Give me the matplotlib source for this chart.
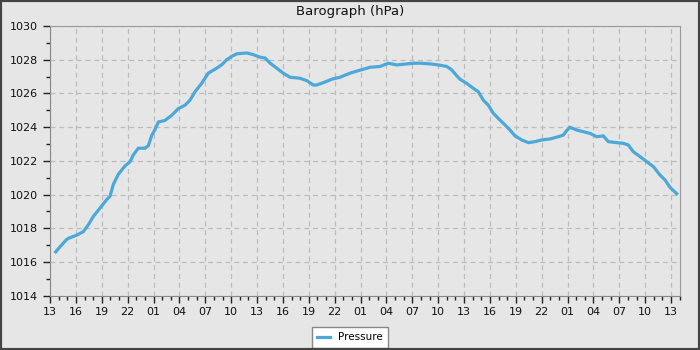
import matplotlib
matplotlib.use("Agg")
import matplotlib.pyplot as plt
from matplotlib.ticker import MultipleLocator, FuncFormatter
from matplotlib.patches import Rectangle

# hours since 13:00 on the first day
hours = [0.66, 1.16, 1.86, 2.12, 3.13, 3.86, 4.44, 5.02, 5.80, 6.57, 6.96, 7.34,
         7.92, 8.70, 9.28, 9.66, 10.24, 11.01, 11.40, 11.79, 12.17, 12.56, 13.33,
         14.11, 14.88, 15.65, 16.23, 16.81, 17.59, 18.35, 19.33, 19.91, 20.49,
         21.07, 21.65, 22.81, 23.57, 24.35, 24.93, 25.51, 26.28, 27.05, 27.83,
         28.99, 29.76, 30.53, 30.92, 31.69, 32.66, 33.62, 34.78, 35.74, 37.10,
         38.26, 39.22, 40.20, 41.36, 42.12, 43.10, 44.06, 45.02, 46.00, 46.57,
         47.15, 47.54, 48.31, 49.08, 49.66, 50.24, 50.82, 51.40, 52.17, 52.75,
         53.33, 53.91, 54.69, 55.46, 56.23, 57.01, 57.97, 58.93, 59.51, 59.90,
         60.29, 61.07, 61.83, 62.61, 63.39, 64.15, 64.73, 65.70, 66.47, 67.05,
         67.63, 68.41, 69.18, 69.95, 70.72, 71.30, 71.88, 72.66]
pressure = [1016.6, 1016.9, 1017.3, 1017.4, 1017.6, 1017.8, 1018.2, 1018.7, 1019.2,
            1019.7, 1019.9, 1020.6, 1021.2, 1021.7, 1021.95, 1022.35, 1022.75,
            1022.75, 1022.9, 1023.5, 1023.85, 1024.3, 1024.4, 1024.7, 1025.1,
            1025.3, 1025.6, 1026.1, 1026.6, 1027.2, 1027.5, 1027.7, 1028.0,
            1028.2, 1028.35, 1028.4, 1028.3, 1028.15, 1028.1, 1027.8, 1027.5,
            1027.2, 1026.96, 1026.9, 1026.76, 1026.5, 1026.5, 1026.64, 1026.84,
            1026.96, 1027.2, 1027.35, 1027.55, 1027.6, 1027.79, 1027.69, 1027.75,
            1027.79, 1027.79, 1027.75, 1027.69, 1027.6, 1027.4, 1027.05, 1026.84,
            1026.6, 1026.3, 1026.1, 1025.6, 1025.3, 1024.82, 1024.42, 1024.13,
            1023.83, 1023.48, 1023.24, 1023.08, 1023.14, 1023.24, 1023.3, 1023.43,
            1023.53, 1023.79, 1023.99, 1023.83, 1023.73, 1023.63, 1023.43,
            1023.48, 1023.14, 1023.08, 1023.04, 1022.94, 1022.54, 1022.25,
            1021.95, 1021.66, 1021.16, 1020.87, 1020.43, 1020.05]
start_hour = 13
title = "Barograph (hPa)"
series_name = "Pressure"

bg = "#e6e6e6"
fig = plt.figure(figsize=(7, 3.5), dpi=100, facecolor=bg)
fig.patches.append(Rectangle((0, 0), 1, 1, transform=fig.transFigure, fill=False,
                             edgecolor="#444444", linewidth=3, zorder=10))
ax = fig.add_axes([50 / 700, 1 - 295.7 / 350, 630 / 700, 269.7 / 350])
ax.set_facecolor(bg)

ax.plot(hours, pressure, color="#4ba8d8", linewidth=2.3, label=series_name,
        solid_joinstyle="miter")

ax.set_xlim(0, 73.04)
ax.set_ylim(1014, 1030)
ax.xaxis.set_major_locator(MultipleLocator(3))
ax.xaxis.set_minor_locator(MultipleLocator(1))
ax.xaxis.set_major_formatter(FuncFormatter(lambda v, p: f"{int(round(start_hour + v)) % 24:02d}"))
ax.yaxis.set_major_locator(MultipleLocator(2))
ax.yaxis.set_minor_locator(MultipleLocator(1))

ax.grid(True, which="major", color="#bdbdbd", linestyle=(0, (4, 3)), linewidth=0.9)
ax.tick_params(axis="both", which="major", length=5, width=1, labelsize=8,
               color="#222222", labelcolor="#111111")
ax.tick_params(axis="both", which="minor", length=3, width=1, color="#222222")
ax.tick_params(axis="x", pad=3)
for s in ["left", "bottom"]:
    ax.spines[s].set_color("#888888")
for s in ["top", "right"]:
    ax.spines[s].set_color("#999999")

fig.text(0.5, 1 - 12 / 350, title, ha="center", va="center", fontsize=9.5, color="#111111")

leg = fig.legend(loc="lower center", bbox_to_anchor=(0.5, -0.008), fontsize=7.5,
                 fancybox=False, framealpha=1, edgecolor="#888888", handlelength=1.2,
                 borderpad=0.5)
leg.get_frame().set_linewidth(1)

fig.savefig("out.png", dpi=100, facecolor=bg)
